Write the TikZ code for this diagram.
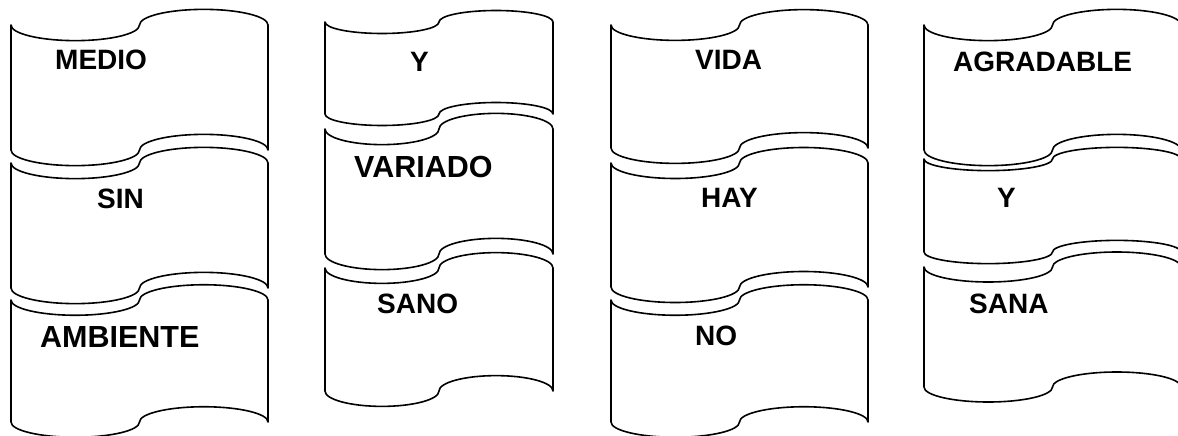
\documentclass[tikz,border=0pt]{standalone}
\usepackage{fontspec}
\setmainfont{Liberation Sans}
\tikzset{
  tapeline/.style={draw=black, line width=1.6pt, line join=round, fill=white},
  word/.style={anchor=base west, inner sep=0pt, font=\bfseries\fontsize{28}{30}\selectfont},
  bigword/.style={word, font=\bfseries\fontsize{30.5}{32}\selectfont}
}
% tape shape: #1 left x, #2 top-left y, #3 width, #4 bottom-left y
\newcommand{\tapeshape}[4]{%
  \pgfmathsetmacro{\ta}{(#4-#2)/8}%
  \pgfmathsetmacro{\tq}{#3/4}%
  \pgfmathsetmacro{\tk}{0.5523}%
  \path[tapeline]
    (#1,#2)
    .. controls (#1,{#2+\tk*\ta}) and ({#1+\tq-\tk*\tq},{#2+\ta}) .. ({#1+\tq},{#2+\ta})
    .. controls ({#1+\tq+\tk*\tq},{#2+\ta}) and ({#1+2*\tq},{#2+\tk*\ta}) .. ({#1+2*\tq},#2)
    .. controls ({#1+2*\tq},{#2-\tk*\ta}) and ({#1+3*\tq-\tk*\tq},{#2-\ta}) .. ({#1+3*\tq},{#2-\ta})
    .. controls ({#1+3*\tq+\tk*\tq},{#2-\ta}) and ({#1+#3},{#2-\tk*\ta}) .. ({#1+#3},#2)
    -- ({#1+#3},#4)
    .. controls ({#1+#3},{#4-\tk*\ta}) and ({#1+3*\tq+\tk*\tq},{#4-\ta}) .. ({#1+3*\tq},{#4-\ta})
    .. controls ({#1+3*\tq-\tk*\tq},{#4-\ta}) and ({#1+2*\tq},{#4-\tk*\ta}) .. ({#1+2*\tq},#4)
    .. controls ({#1+2*\tq},{#4+\tk*\ta}) and ({#1+\tq+\tk*\tq},{#4+\ta}) .. ({#1+\tq},{#4+\ta})
    .. controls ({#1+\tq-\tk*\tq},{#4+\ta}) and (#1,{#4+\tk*\ta}) .. (#1,#4)
    -- cycle;}
\begin{document}
\begin{tikzpicture}[x=1pt,y=-1pt]
\useasboundingbox (0,0) rectangle (1178,436);
\clip (0,0) rectangle (1178,436);
% column 1
\tapeshape{11}{25}{257}{150}
\tapeshape{11}{163}{257}{288}
\tapeshape{11}{300}{257}{422}
% column 2
\tapeshape{325}{22}{228}{114}
\tapeshape{325}{129}{228}{254}
\tapeshape{325}{268}{228}{391}
% column 3
\tapeshape{611}{25}{257}{148}
\tapeshape{611}{163}{257}{287}
\tapeshape{611}{300}{257}{422}
% column 4
\tapeshape{924}{25}{257}{150}
\tapeshape{924}{159}{257}{252}
\tapeshape{924}{267}{257}{387}
% words
\node[word] (medio) at (55,70) {MEDIO};
\node[word] (sin) at (97,208) {SIN};
\node[bigword] (ambiente) at (40,347) {AMBIENTE};
\node[word] (y1) at (410,71) {Y};
\node[bigword] (variado) at (354,177) {VARIADO};
\node[word] (sano) at (377,313) {SANO};
\node[word] (vida) at (695,70) {VIDA};
\node[word] (hay) at (701,207) {HAY};
\node[word] (no) at (695,345) {NO};
\node[word] (agradable) at (953,71) {AGRADABLE};
\node[word] (y2) at (997,207) {Y};
\node[word] (sana) at (969,313) {SANA};
\end{tikzpicture}
\end{document}
